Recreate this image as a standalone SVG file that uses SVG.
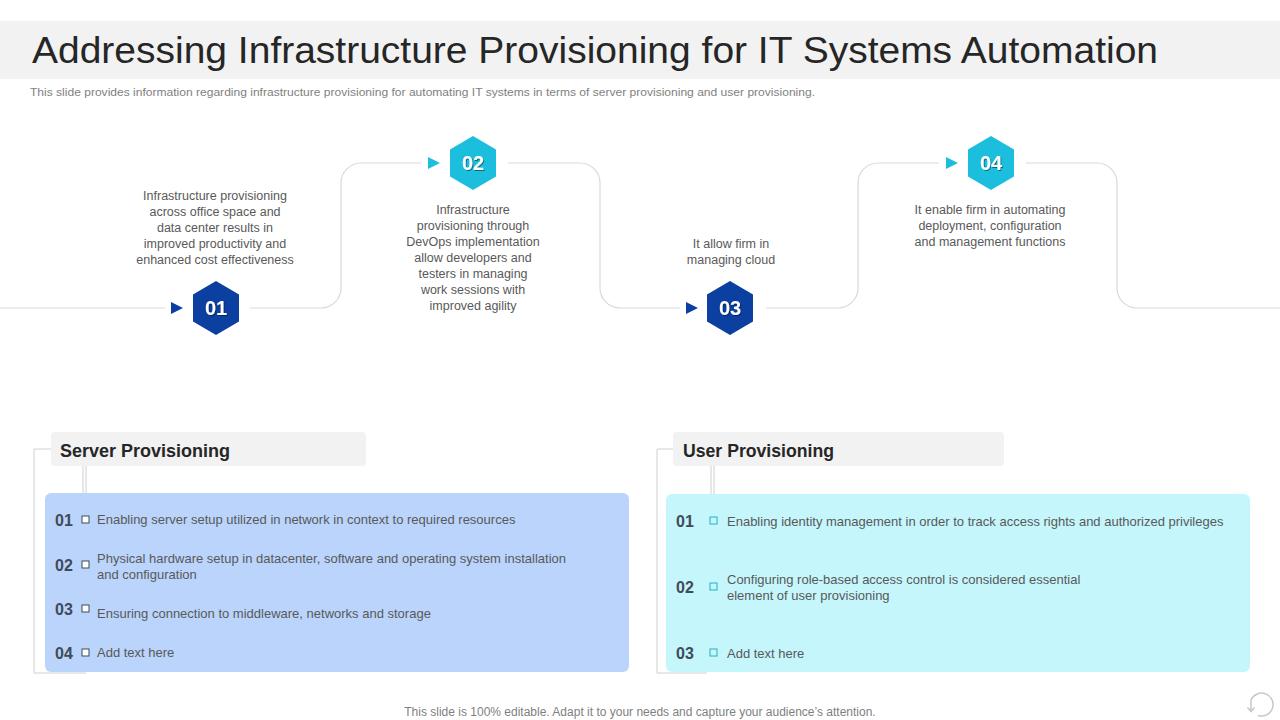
<svg xmlns="http://www.w3.org/2000/svg" width="1280" height="720" viewBox="0 0 1280 720">
<defs>
<style>
.title{font-family:"Liberation Sans",Arial,sans-serif;font-size:37px;fill:#262626;}
.sub{font-family:"Liberation Sans",Arial,sans-serif;font-size:11.5px;fill:#7f7f7f;}
.body{font-family:"Liberation Sans",Arial,sans-serif;font-size:12.5px;fill:#595959;text-anchor:middle;}
.item{font-family:"Liberation Sans",Arial,sans-serif;font-size:13px;fill:#595959;}
.num{font-family:"Liberation Sans",Arial,sans-serif;font-size:16px;font-weight:bold;fill:#404a58;}
.hdr{font-family:"Liberation Sans",Arial,sans-serif;font-size:19px;font-weight:bold;fill:#262626;}
.hexnum{font-family:"Liberation Sans",Arial,sans-serif;font-size:20px;font-weight:bold;fill:#ffffff;text-anchor:middle;}
.foot{font-family:"Liberation Sans",Arial,sans-serif;font-size:12px;fill:#7f7f7f;text-anchor:middle;}
.line{fill:none;stroke:#d9d9d9;stroke-width:1.2;}
.brk{fill:none;stroke:#d0d0d0;stroke-width:1;}
.dark{fill:#0b40a0;}
.cyan{fill:#1bbfdd;}
.sqb{fill:#ffffff;stroke:#3a4a5a;stroke-width:1;}
.sqc{fill:none;stroke:#29b0bf;stroke-width:1;}
</style>
<filter id="sh" x="-20%" y="-20%" width="140%" height="140%">
<feDropShadow dx="1" dy="1" stdDeviation="0.6" flood-color="#000" flood-opacity="0.45"/>
</filter>
<polygon id="hex" points="0,-27 23,-13.5 23,13.5 0,27 -23,13.5 -23,-13.5"/>
</defs>

<rect x="0" y="0" width="1280" height="720" fill="#ffffff"/>

<g id="header">
<rect x="0" y="21" width="1280" height="58" fill="#f2f2f2"/>
<text class="title" x="32" y="63" textLength="1126" lengthAdjust="spacingAndGlyphs">Addressing Infrastructure Provisioning for IT Systems Automation</text>
<text class="sub" x="30" y="96" textLength="785" lengthAdjust="spacingAndGlyphs">This slide provides information regarding infrastructure provisioning for automating IT systems in terms of server provisioning and user provisioning.</text>
</g>

<g id="connectors">
<path class="line" d="M0,308 H165"/>
<path class="line" d="M250,308 H321 A20,20 0 0 0 341,288 V183 A20,20 0 0 1 361,163 H421"/>
<path class="line" d="M508,163 H580 A20,20 0 0 1 600,183 V288 A20,20 0 0 0 620,308 H680"/>
<path class="line" d="M766,308 H838 A20,20 0 0 0 858,288 V183 A20,20 0 0 1 878,163 H939"/>
<path class="line" d="M1026,163 H1097 A20,20 0 0 1 1117,183 V288 A20,20 0 0 0 1137,308 H1280"/>
<polygon class="dark" points="171,302 183,308 171,314"/>
<polygon class="cyan" points="428,157 440,163 428,169"/>
<polygon class="dark" points="686,302 698,308 686,314"/>
<polygon class="cyan" points="946,157 958,163 946,169"/>
</g>

<g id="step01">
<use href="#hex" x="216" y="308" class="dark"/>
<text class="hexnum" x="216" y="315" filter="url(#sh)">01</text>
<text class="body" x="215" y="200">Infrastructure  provisioning</text>
<text class="body" x="215" y="216">across office space and</text>
<text class="body" x="215" y="232">data center results in</text>
<text class="body" x="215" y="248">improved  productivity and</text>
<text class="body" x="215" y="264">enhanced  cost effectiveness</text>
</g>

<g id="step02">
<use href="#hex" x="473" y="163" class="cyan"/>
<text class="hexnum" x="473" y="170" filter="url(#sh)">02</text>
<text class="body" x="473" y="214">Infrastructure</text>
<text class="body" x="473" y="230">provisioning  through</text>
<text class="body" x="473" y="246">DevOps  implementation</text>
<text class="body" x="473" y="262">allow developers  and</text>
<text class="body" x="473" y="278">testers in managing</text>
<text class="body" x="473" y="294">work sessions with</text>
<text class="body" x="473" y="310">improved  agility</text>
</g>

<g id="step03">
<use href="#hex" x="730" y="308" class="dark"/>
<text class="hexnum" x="730" y="315" filter="url(#sh)">03</text>
<text class="body" x="731" y="248">It allow firm in</text>
<text class="body" x="731" y="264">managing  cloud</text>
</g>

<g id="step04">
<use href="#hex" x="991" y="163" class="cyan"/>
<text class="hexnum" x="991" y="170" filter="url(#sh)">04</text>
<text class="body" x="990" y="214">It enable firm in automating</text>
<text class="body" x="990" y="230">deployment, configuration</text>
<text class="body" x="990" y="246">and management  functions</text>
</g>

<g id="server-provisioning">
<path class="brk" d="M51,449 H34 V673 H86"/>
<path class="brk" d="M83,466 V493 M86,466 V493"/>
<rect x="51" y="432" width="315" height="34" rx="4" fill="#f2f2f2"/>
<text class="hdr" x="60" y="457" textLength="170" lengthAdjust="spacingAndGlyphs">Server Provisioning</text>
<rect x="45" y="493" width="584" height="179" rx="6" fill="#bad4fb"/>
<text class="num" x="55" y="526">01</text>
<rect class="sqb" x="82" y="516" width="7" height="7"/>
<text class="item" x="97" y="524">Enabling server  setup utilized in network in context to required  resources</text>
<text class="num" x="55" y="571">02</text>
<rect class="sqb" x="82" y="561" width="7" height="7"/>
<text class="item" x="97" y="563">Physical hardware  setup in datacenter, software  and operating  system  installation</text>
<text class="item" x="97" y="579">and configuration</text>
<text class="num" x="55" y="615">03</text>
<rect class="sqb" x="82" y="605" width="7" height="7"/>
<text class="item" x="97" y="618">Ensuring connection to middleware,  networks and  storage</text>
<text class="num" x="55" y="659">04</text>
<rect class="sqb" x="82" y="649" width="7" height="7"/>
<text class="item" x="97" y="657">Add text here</text>
</g>

<g id="user-provisioning">
<path class="brk" d="M673,449 H657 V673 H707"/>
<path class="brk" d="M711,466 V494 M714,466 V494"/>
<rect x="673" y="432" width="331" height="34" rx="4" fill="#f2f2f2"/>
<text class="hdr" x="683" y="457" textLength="151" lengthAdjust="spacingAndGlyphs">User Provisioning</text>
<rect x="666" y="494" width="584" height="178" rx="6" fill="#c5f6fc"/>
<text class="num" x="676" y="527">01</text>
<rect class="sqc" x="710" y="517" width="7" height="7"/>
<text class="item" x="727" y="526">Enabling identity management  in order to track access rights and authorized  privileges</text>
<text class="num" x="676" y="593">02</text>
<rect class="sqc" x="710" y="583" width="7" height="7"/>
<text class="item" x="727" y="584">Configuring  role-based  access control is considered essential</text>
<text class="item" x="727" y="600">element  of user  provisioning</text>
<text class="num" x="676" y="659">03</text>
<rect class="sqc" x="710" y="649" width="7" height="7"/>
<text class="item" x="727" y="658">Add text here</text>
</g>

<g id="footer">
<text class="foot" x="640" y="716">This slide is 100% editable. Adapt it to your needs and capture your audience’s attention.</text>
<path d="M1251,700 A11.5,11.5 0 1 1 1258,715.5" fill="none" stroke="#c8c8c8" stroke-width="1.5"/>
<path d="M1251,700 V711 M1247.5,707.5 L1251,711.5 L1254.5,707.5" fill="none" stroke="#c8c8c8" stroke-width="1.5"/>
</g>
</svg>
